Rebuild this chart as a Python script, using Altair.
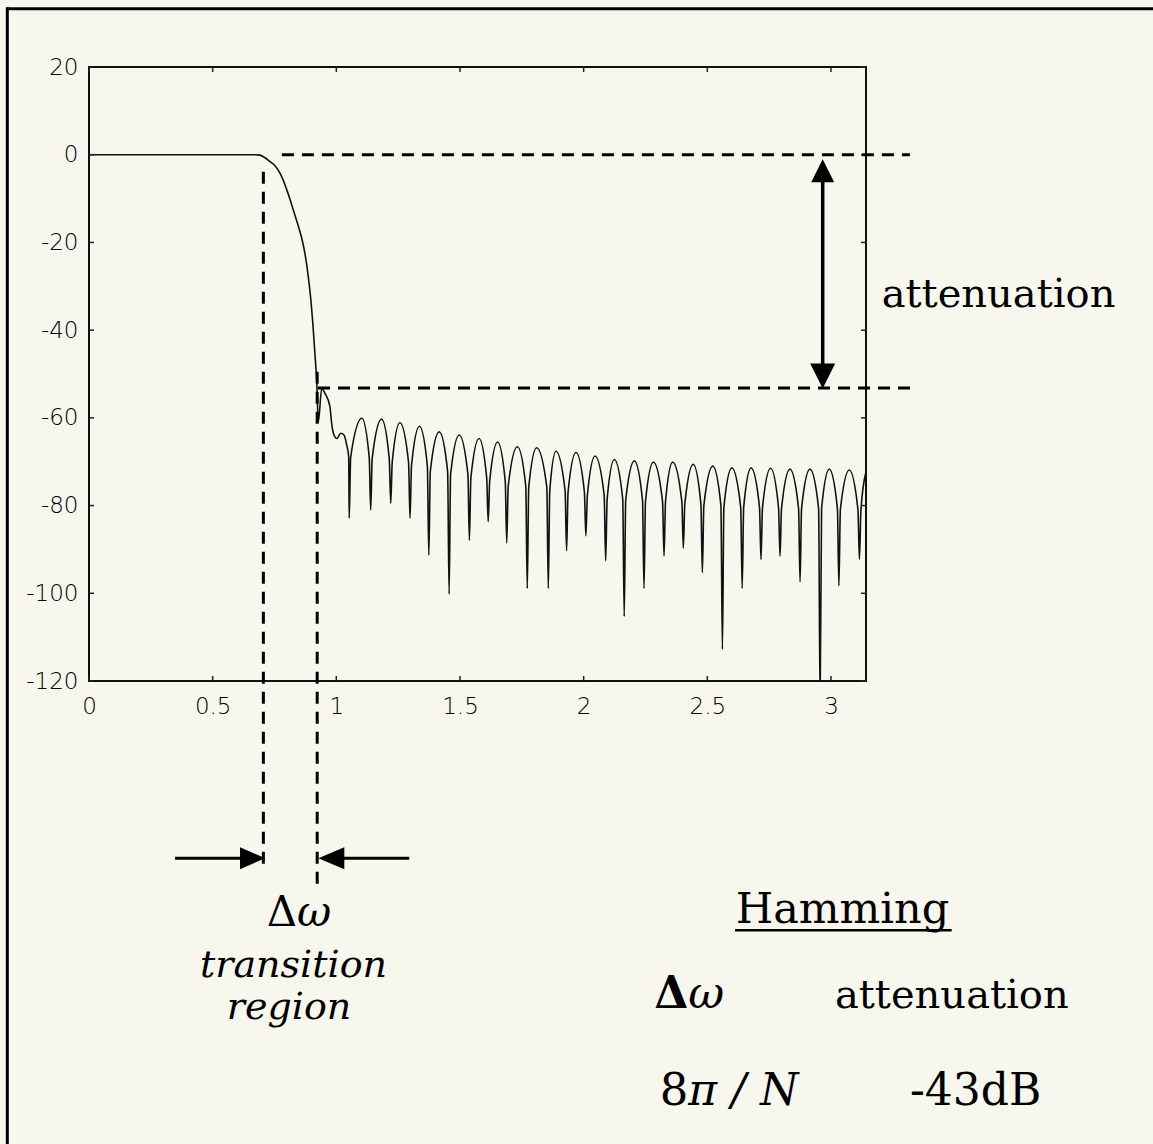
import math
import altair as alt
import pandas as pd

PI = math.pi

# ---- frequency response (rad, dB) ----
freq = [
    0.000, 0.671, 0.691, 0.712, 0.732, 0.752, 0.772, 0.786, 0.799, 0.813,
    0.826, 0.846, 0.860, 0.873, 0.886, 0.896, 0.905, 0.913, 0.921,
    0.927, 0.941, 0.954, 0.974, 0.981, 0.988, 1.002, 1.018, 1.031, 1.042,
    1.050, 1.052,
    1.058, 1.103, 1.133, 1.139,
    1.145, 1.183, 1.214, 1.220,
    1.226, 1.257, 1.292, 1.298,
    1.304, 1.336, 1.368, 1.374,
    1.380, 1.416, 1.450, 1.456,
    1.462, 1.497, 1.532, 1.538,
    1.544, 1.577, 1.608, 1.614,
    1.620, 1.652, 1.683, 1.689,
    1.695, 1.732, 1.766, 1.772,
    1.778, 1.810, 1.851, 1.857,
    1.863, 1.888, 1.925, 1.931,
    1.937, 1.969, 2.003, 2.009,
    2.015, 2.046, 2.083, 2.089,
    2.095, 2.124, 2.158, 2.164,
    2.170, 2.205, 2.238, 2.244,
    2.250, 2.282, 2.319, 2.325,
    2.331, 2.360, 2.397, 2.403,
    2.409, 2.443, 2.474, 2.480,
    2.486, 2.522, 2.555, 2.561,
    2.567, 2.599, 2.635, 2.641,
    2.647, 2.677, 2.711, 2.717,
    2.723, 2.756, 2.788, 2.794,
    2.800, 2.834, 2.869, 2.875,
    2.881, 2.915, 2.950, 2.956,
    2.962, 2.993, 3.026, 3.032,
    3.038, 3.074, 3.109, 3.115,
    3.121, 3.1416,
]
gain_db = [
    0.0, 0.0, -0.1, -0.7, -1.6, -2.5, -4.2, -5.9, -7.9, -10.2,
    -12.6, -16.2, -19.0, -22.5, -27.5, -32.5, -38.5, -45.0, -52.0,
    -61.0, -53.3, -54.4, -57.4, -61.2, -63.5, -64.7, -63.5, -63.9, -66.2,
    -68.9, -82.9,
    -69.0, -60.1, -69.0, -81.0,
    -69.3, -60.3, -69.3, -79.5,
    -70.1, -61.1, -70.1, -82.9,
    -70.9, -61.9, -70.9, -91.3,
    -72.2, -63.2, -72.2, -100.2,
    -72.9, -63.9, -72.9, -87.9,
    -73.7, -64.7, -73.7, -83.7,
    -74.5, -65.5, -74.5, -88.5,
    -75.6, -66.6, -75.6, -98.9,
    -75.8, -66.8, -75.8, -98.9,
    -76.6, -67.6, -76.6, -90.3,
    -76.9, -67.9, -76.9, -86.9,
    -77.7, -68.7, -77.7, -92.6,
    -78.5, -69.5, -78.5, -105.3,
    -78.8, -69.8, -78.8, -98.9,
    -79.1, -70.1, -79.1, -91.5,
    -79.1, -70.1, -79.1, -89.7,
    -79.6, -70.6, -79.6, -95.3,
    -80.0, -71.0, -80.0, -112.8,
    -80.4, -71.4, -80.4, -98.9,
    -80.4, -71.4, -80.4, -92.3,
    -80.5, -71.5, -80.5, -91.5,
    -80.7, -71.7, -80.7, -97.4,
    -80.7, -71.7, -80.7, -125.0,
    -80.7, -71.7, -80.7, -98.3,
    -80.9, -71.9, -80.9, -92.3,
    -81.2, -72.3,
]
assert len(freq) == len(gain_db)

x_tick_values = [0, 0.5, 1, 1.5, 2, 2.5, 3]
y_tick_values = [-120, -100, -80, -60, -40, -20, 0, 20]

passband_edge = 0.705      # left dashed marker (rad)
stopband_edge = 0.9226     # right dashed marker (rad)
attenuation_level = -53.2  # first sidelobe level (dB)

# ---- scales / axes ----
W, H = 777, 614
X_DOM = [0, PI]
Y_DOM = [-120, 20]
XPX = W / (X_DOM[1] - X_DOM[0])   # px per rad
YPX = H / (Y_DOM[1] - Y_DOM[0])   # px per dB

xs = alt.Scale(domain=X_DOM, nice=False, zero=False)
ys = alt.Scale(domain=Y_DOM, nice=False, zero=False)

label_font = "DejaVu Sans"
xaxis = alt.Axis(values=x_tick_values, labelExpr="datum.value + ''", domain=False,
                 ticks=False, tickSize=0, grid=False, labelFont=label_font,
                 labelFontSize=23, labelFontWeight=300, labelColor="#000",
                 labelPadding=14, labelFlush=False, labelOverlap=False, title=None)
yaxis = alt.Axis(values=y_tick_values, labelExpr="datum.value + ''", domain=False,
                 ticks=False, tickSize=0, grid=False, labelFont=label_font,
                 labelFontSize=23, labelFontWeight=300, labelColor="#000",
                 labelPadding=11, labelFlush=False, labelOverlap=False, title=None)


def X(f):
    return alt.X(f, type="quantitative", scale=xs, axis=xaxis)


def Y(f):
    return alt.Y(f, type="quantitative", scale=ys, axis=yaxis)


# ---- curve ----
curve_df = pd.DataFrame({"x": freq, "y": gain_db})
curve = alt.Chart(curve_df).mark_line(
    interpolate="monotone", color="#111", strokeWidth=1.6, clip=True
).encode(x=X("x"), y=Y("y"))

# ---- inward ticks on all four sides ----
tlx = 5 / XPX
tly = 5 / YPX
tick_rows = []
for v in x_tick_values:
    tick_rows.append({"x": v, "x2": v, "y": Y_DOM[0], "y2": Y_DOM[0] + tly})
    tick_rows.append({"x": v, "x2": v, "y": Y_DOM[1], "y2": Y_DOM[1] - tly})
for v in y_tick_values:
    tick_rows.append({"x": X_DOM[0], "x2": X_DOM[0] + tlx, "y": v, "y2": v})
    tick_rows.append({"x": X_DOM[1], "x2": X_DOM[1] - tlx, "y": v, "y2": v})
ticks = alt.Chart(pd.DataFrame(tick_rows)).mark_rule(color="#222", strokeWidth=1.5).encode(
    x=X("x"), x2=alt.X2("x2"), y=Y("y"), y2=alt.Y2("y2"))

# ---- dashed annotation lines ----
dash_df = pd.DataFrame([
    {"x": 0.780, "x2": 3.319, "y": 0.0, "y2": 0.0},
    {"x": 0.926, "x2": 3.327, "y": attenuation_level, "y2": attenuation_level},
    {"x": passband_edge, "x2": passband_edge, "y": -3.9, "y2": -163.5},
    {"x": stopband_edge, "x2": stopband_edge, "y": -49.5, "y2": -167.7},
])
dashes = alt.Chart(dash_df).mark_rule(color="#000", strokeWidth=3, strokeDash=[12, 8]).encode(
    x=X("x"), x2=alt.X2("x2"), y=Y("y"), y2=alt.Y2("y2"))

# ---- solid lines: arrow shafts, frame of the slide, underline ----
solid_df = pd.DataFrame([
    {"x": 0.348, "x2": 0.665, "y": -160.4, "y2": -160.4, "w": 3},
    {"x": 1.295, "x2": 0.975, "y": -160.4, "y2": -160.4, "w": 3},
    {"x": 2.9665, "x2": 2.9665, "y": -4.0, "y2": -50.0, "w": 3.5},
    {"x": 2.612, "x2": 3.488, "y": -176.85, "y2": -176.85, "w": 2.5},
    {"x": -0.3303, "x2": 4.5, "y": 33.29, "y2": 33.29, "w": 3},
    {"x": -0.3303, "x2": -0.3303, "y": 33.6, "y2": -240, "w": 3},
])
solids = alt.Chart(solid_df).mark_rule(color="#000").encode(
    x=X("x"), x2=alt.X2("x2"), y=Y("y"), y2=alt.Y2("y2"),
    strokeWidth=alt.StrokeWidth("w:Q", scale=None, legend=None))


# ---- arrow heads ----
def head(x, y, path, size):
    return alt.Chart(pd.DataFrame({"x": [x], "y": [y]})).mark_point(
        shape=path, size=size, filled=True, color="#000", opacity=1, strokeWidth=0
    ).encode(x=X("x"), y=Y("y"))


heads = [
    head(0.7116 - 12.5 / XPX, -160.4, "M-1,-0.88L1,0L-1,0.88Z", 625),
    head(0.9272 + 13 / XPX, -160.4, "M1,-0.85L-1,0L1,0.85Z", 676),
    head(2.9665, -1.05 - 11.5 / YPX, "M-1,1L0,-1L1,1Z", 529),
    head(2.9665, -53.3 + 12.5 / YPX, "M-1,-1L0,1L1,-1Z", 625),
]


# ---- texts ----
def label(txt, x, y, size, align="left", style="normal", weight="normal",
          font="DejaVu Serif"):
    return alt.Chart(pd.DataFrame({"x": [x], "y": [y], "t": [txt]})).mark_text(
        font=font, fontSize=size, fontStyle=style, fontWeight=weight, align=align,
        baseline="alphabetic", color="#000"
    ).encode(x=X("x"), y=Y("y"), text=alt.Text("t:N"))


texts = [
    label("attenuation", 3.205, -34.65, 40),
    label("Δ", 0.841, -175.9, 42, align="right"),
    label("ω", 0.841, -175.9, 42, style="italic"),
    label("transition", 0.8268, -187.4, 38, align="center", style="italic"),
    label("region", 0.8086, -197.0, 38, align="center", style="italic"),
    label("Hamming", 3.0465, -175.25, 43, align="center"),
    label("Δ", 2.423, -194.6, 44, align="right", weight="bold"),
    label("ω", 2.423, -194.6, 44, style="italic"),
    label("attenuation", 3.016, -194.6, 40),
    label("8", 2.423, -216.7, 45, align="right"),
    label("π / N", 2.423, -216.7, 44, style="italic"),
    label("-43dB", 3.319, -216.7, 44),
]

chart = alt.layer(curve, ticks, dashes, solids, *heads, *texts).properties(
    width=W, height=H,
    autosize=alt.AutoSizeParams(type="none"),
    padding={"left": 89, "top": 67, "right": 1153 - 89 - W, "bottom": 1144 - 67 - H},
).configure(background="#f8f7ee").configure_view(stroke="#111", strokeWidth=2)

chart.save("out.html", embed_options={"renderer": "svg", "actions": False})
